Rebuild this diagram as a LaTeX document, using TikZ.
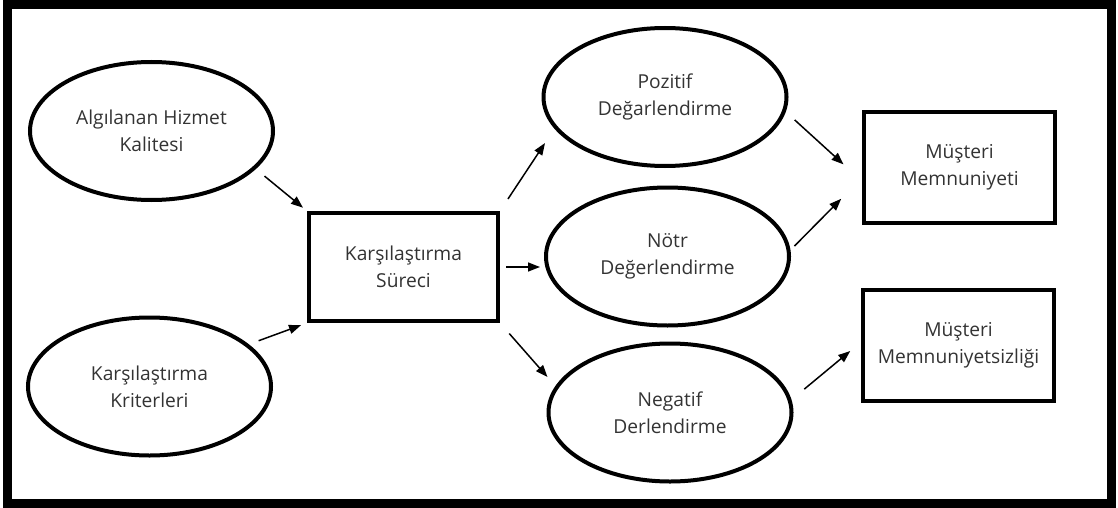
\documentclass[tikz,border=0pt]{standalone}
\usepackage{fontspec}
\setmainfont{Open Sans}
\usetikzlibrary{arrows.meta,shapes.geometric}
\tikzset{%
   ell/.style={
      ellipse,
      draw=black,
      line width=2pt,
      minimum width=121.5pt,
      minimum height=69pt,
      align=center,
      text=black!80,
      font=\fontsize{9.6}{13.5}\selectfont
   },
   bx/.style={
      rectangle,
      draw=black,
      line width=2pt,
      minimum width=95.5pt,
      minimum height=55.5pt,
      align=center,
      text=black!80,
      font=\fontsize{9.6}{13.5}\selectfont
   },
   arr/.style={
      -{Triangle[length=6pt,width=4.5pt]},
      line width=.75pt
   },
}

\begin{document}
\begin{tikzpicture}[x=0.5pt, y=-0.5pt]
   \useasboundingbox (0,0) rectangle (1118,508);
   \draw[line width=4.5pt] (7.5,4.5) rectangle (1111.5,503);
   % left inputs
   \node[ell] (alg) at (151.5,131) {Algılanan Hizmet\\Kalitesi};
   \node[ell] (krt) at (149.5,386.5) {Karşılaştırma\\Kriterleri};
   \node[bx, minimum width=94.5pt, minimum height=54pt] (sur) at (403.5,267) {Karşılaştırma\\Süreci};
   % evaluations
   \node[ell] (poz) at (665,97) {Pozitif\\Değarlendirme};
   \node[ell] (ntr) at (667.5,256.5) {Nötr\\Değerlendirme};
   \node[ell] (neg) at (670,412.5) {Negatif\\Derlendirme};
   % outcomes
   \node[bx] (mm) at (959.5,167.5) {Müşteri\\Memnuniyeti};
   \node[bx] (mms) at (958.5,345.5) {Müşteri\\Memnuniyetsizliği};
   \draw[arr, shorten <=5.6pt, shorten >=2.6pt] (alg.-20.5) -- (sur.north west);
   \draw[arr, shorten <=5.2pt, shorten >=3.2pt] (krt.23) -- (sur.south west);
   \draw[arr, shorten <=7.2pt, shorten >=8.6pt] (sur.north east) -- (poz.196);
   \draw[arr, shorten <=3pt, shorten >=2pt] (sur.east) -- (sur.east -| ntr.west);
   \draw[arr, shorten <=7pt, shorten >=6pt] (sur.south east) -- (neg.167);
   \draw[arr, shorten <=6pt, shorten >=12.5pt] (poz.-7.7) -- (mm.188);
   \draw[arr, shorten <=2.8pt, shorten >=14.8pt] (ntr.3) -- (mm.186);
   \draw[arr, shorten <=8.3pt, shorten >=7pt] (neg.6) -- (mms.178);
\end{tikzpicture}
\end{document}
